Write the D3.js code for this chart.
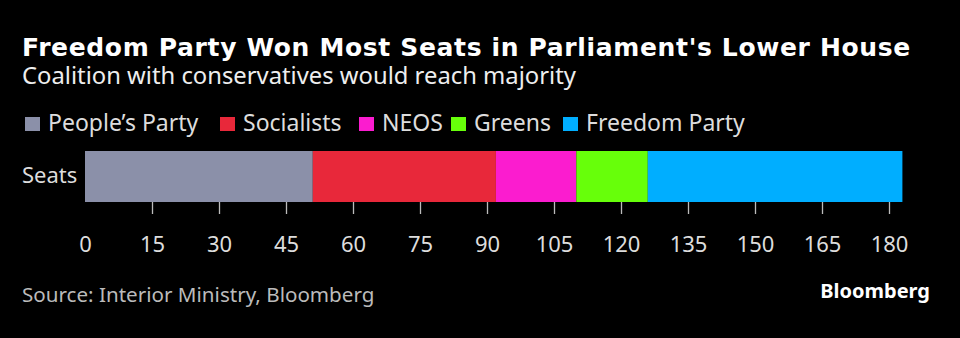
<!DOCTYPE html>
<html>
<head>
<meta charset="utf-8">
<script src="https://cdn.jsdelivr.net/npm/d3@7"></script>
<style>
  body { margin: 0; background: #000; }
  svg text { font-family: "Noto Sans", sans-serif; }
</style>
</head>
<body>
<div id="chart"></div>
<script>
// seats won, left to right in the stack
const parties = ["People’s Party", "Socialists", "NEOS", "Greens", "Freedom Party"]
const seats = [51, 41, 18, 16, 57]
const partyColors = ["#8b90a9", "#e8283a", "#fb1ccf", "#67ff0a", "#00aeff"]
const rowLabel = "Seats"
const tickValues = [0, 15, 30, 45, 60, 75, 90, 105, 120, 135, 150, 165, 180]

const width = 960
const height = 338

const svg = d3.select("#chart")
  .append("svg")
    .attr("width", width)
    .attr("height", height)

svg.append("rect")
  .attr("width", width)
  .attr("height", height)
  .attr("fill", "#000")

// title + subtitle
svg.append("text")
  .attr("x", 22).attr("y", 56)
  .attr("fill", "#fff")
  .style("font-size", "25px")
  .style("font-weight", "bold")
  .style("letter-spacing", "0.65px")
  .style("font-family", "'DejaVu Sans', sans-serif")
  .text("Freedom Party Won Most Seats in Parliament's Lower House")

svg.append("text")
  .attr("x", 22).attr("y", 84)
  .attr("fill", "#eee")
  .style("font-size", "23.8px")
  .text("Coalition with conservatives would reach majority")

// legend
const legendX = [25, 220, 359, 451, 563]
const legend = svg.selectAll(".legend")
  .data(parties)
  .join("g")
    .attr("class", "legend")
    .attr("transform", (d, i) => `translate(${legendX[i]},117)`)

legend.append("rect")
  .attr("width", 15).attr("height", 14)
  .attr("fill", (d, i) => partyColors[i])

legend.append("text")
  .attr("x", 23).attr("y", 14)
  .attr("fill", "#ddd")
  .style("font-size", "23px")
  .text(d => d)

// stacked bar
const x = d3.scaleLinear()
  .domain([0, 180])
  .range([85, 889])

let running = 0
const segments = seats.map((v, i) => {
  const s = { name: parties[i], start: running, end: running + v, color: partyColors[i] }
  running += v
  return s
})

const barTop = 151
const barH = 51

svg.selectAll(".seg")
  .data(segments)
  .join("rect")
    .attr("class", "seg")
    .attr("x", d => x(d.start))
    .attr("y", barTop)
    .attr("width", d => x(d.end) - x(d.start))
    .attr("height", barH)
    .attr("fill", d => d.color)

svg.append("text")
  .attr("x", 22).attr("y", 183)
  .attr("fill", "#ddd")
  .style("font-size", "22px")
  .text(rowLabel)

// x axis
const axis = svg.append("g")
  .attr("transform", `translate(0,${barTop + barH})`)
  .call(d3.axisBottom(x).tickValues(tickValues).tickSize(12).tickPadding(22))

axis.select(".domain").remove()
axis.selectAll(".tick line")
  .attr("stroke", "#bbb")
  .attr("stroke-width", 1.3)
  .filter(d => d === 0).remove()
axis.selectAll(".tick text")
  .attr("fill", "#ddd")
  .style("font-size", "22px")
  .style("font-family", "'Noto Sans', sans-serif")

// footer
svg.append("text")
  .attr("x", 22).attr("y", 302)
  .attr("fill", "#bbb")
  .style("font-size", "20.6px")
  .text("Source: Interior Ministry, Bloomberg")

svg.append("text")
  .attr("x", 930).attr("y", 298)
  .attr("text-anchor", "end")
  .attr("fill", "#fff")
  .style("font-size", "20px")
  .style("font-weight", "bold")
  .text("Bloomberg")
</script>
</body>
</html>
